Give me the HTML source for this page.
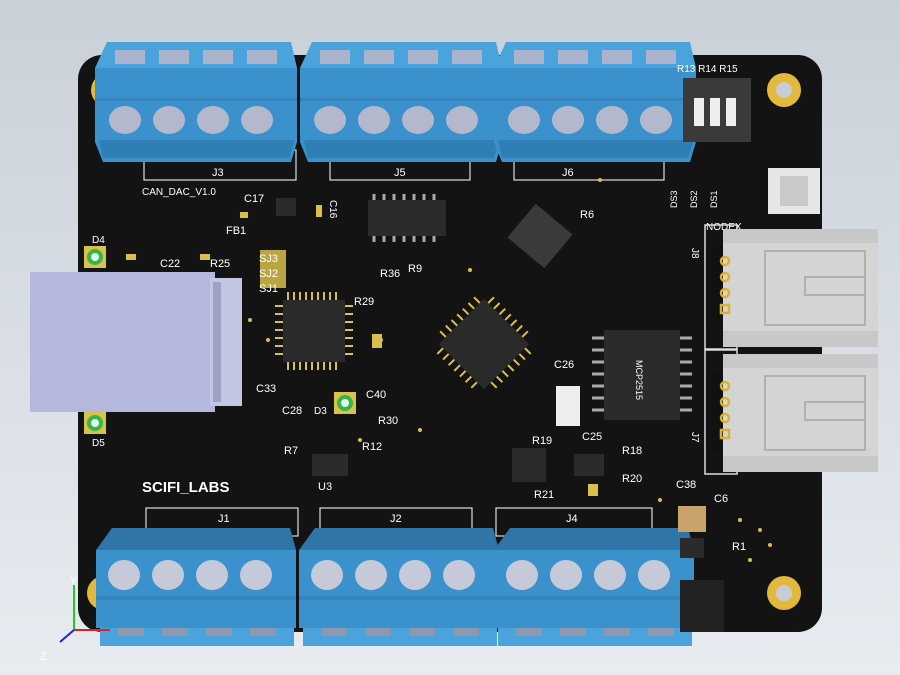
<!DOCTYPE html>
<html><head><style>
body{margin:0;width:900px;height:675px;overflow:hidden;background:#d8dee6}
svg{display:block}
text{font-family:"Liberation Sans",sans-serif;fill:#fff}
</style></head><body>
<svg width="900" height="675" viewBox="0 0 900 675">
<defs>
<linearGradient id="bg" x1="0" y1="0" x2="0" y2="1"><stop offset="0" stop-color="#c9d0d8"/><stop offset="1" stop-color="#e8ecf1"/></linearGradient>
<g id="tbTop">
 <polygon points="12,0 196,0 202,26 0,26" fill="#4ba3dc"/>
 <rect x="20" y="8" width="30" height="14" fill="#a9b3cc"/><rect x="64" y="8" width="30" height="14" fill="#a9b3cc"/>
 <rect x="108" y="8" width="30" height="14" fill="#a9b3cc"/><rect x="152" y="8" width="30" height="14" fill="#a9b3cc"/>
 <polygon points="0,26 202,26 202,100 196,120 8,120 0,100" fill="#3a91cc"/>
 <rect x="0" y="56" width="202" height="3" fill="#3483bd"/>
 <ellipse cx="30" cy="78" rx="16" ry="14" fill="#b4b8cc"/><ellipse cx="74" cy="78" rx="16" ry="14" fill="#b4b8cc"/>
 <ellipse cx="118" cy="78" rx="16" ry="14" fill="#b4b8cc"/><ellipse cx="162" cy="78" rx="16" ry="14" fill="#b4b8cc"/>
 <polygon points="4,98 200,98 194,116 8,116" fill="#2f7eb4"/>
</g>
<g id="tbBot">
 <polygon points="16,0 194,0 200,22 0,22" fill="#2f75a8"/>
 <rect x="0" y="22" width="200" height="78" fill="#3a91cc"/>
 <ellipse cx="28" cy="47" rx="16" ry="15" fill="#c6cad8"/><ellipse cx="72" cy="47" rx="16" ry="15" fill="#c6cad8"/>
 <ellipse cx="116" cy="47" rx="16" ry="15" fill="#c6cad8"/><ellipse cx="160" cy="47" rx="16" ry="15" fill="#c6cad8"/>
 <rect x="0" y="68" width="200" height="4" fill="#3584bd"/>
 <rect x="4" y="100" width="194" height="18" fill="#4ba3dc"/>
 <rect x="22" y="100" width="26" height="8" fill="#8d99b0"/><rect x="66" y="100" width="26" height="8" fill="#8d99b0"/>
 <rect x="110" y="100" width="26" height="8" fill="#8d99b0"/><rect x="154" y="100" width="26" height="8" fill="#8d99b0"/>
</g>
<g id="conn">
 <rect x="0" y="0" width="32" height="124" fill="none" stroke="#ddd" stroke-width="1.5"/>
 <rect x="6" y="22" width="30" height="80" fill="#111"/>
 <rect x="18" y="4" width="155" height="118" rx="4" fill="#d4d4d4"/>
 <rect x="18" y="4" width="155" height="14" fill="#c8c8c8"/>
 <rect x="18" y="106" width="155" height="16" fill="#c8c8c8"/>
 <rect x="60" y="26" width="100" height="74" fill="none" stroke="#b0b0b0" stroke-width="2"/>
 <rect x="100" y="52" width="60" height="18" fill="none" stroke="#b0b0b0" stroke-width="2"/>
 <circle cx="20" cy="36" r="4" fill="none" stroke="#d9b330" stroke-width="2.5"/><circle cx="20" cy="52" r="4" fill="none" stroke="#d9b330" stroke-width="2.5"/>
 <circle cx="20" cy="68" r="4" fill="none" stroke="#d9b330" stroke-width="2.5"/><rect x="16" y="80" width="8" height="8" fill="none" stroke="#d9b330" stroke-width="2.5"/>
</g>
</defs>
<rect width="900" height="675" fill="url(#bg)"/>
<rect x="78" y="55" width="744" height="577" rx="24" fill="#131313"/>
<circle cx="108" cy="90" r="17" fill="#e2b93a"/><circle cx="108" cy="90" r="8" fill="#b9a57a"/>
<circle cx="784" cy="90" r="17" fill="#e2b93a"/><circle cx="784" cy="90" r="8" fill="#c8cdd5"/>
<circle cx="784" cy="593" r="17" fill="#e2b93a"/><circle cx="784" cy="593" r="8" fill="#c8cdd5"/>
<circle cx="104" cy="593" r="17" fill="#e2b93a"/>
<g fill="none" stroke="#ddd" stroke-width="1.2">
<rect x="144" y="150" width="152" height="30"/><rect x="330" y="150" width="140" height="30"/><rect x="514" y="150" width="150" height="30"/>
<rect x="146" y="508" width="152" height="28"/><rect x="320" y="508" width="152" height="28"/><rect x="496" y="508" width="156" height="28"/>
</g>
<text x="212" y="176" font-size="11">J3</text><text x="394" y="176" font-size="11">J5</text><text x="562" y="176" font-size="11">J6</text>
<text x="218" y="522" font-size="11">J1</text><text x="390" y="522" font-size="11">J2</text><text x="566" y="522" font-size="11">J4</text>
<text x="142" y="195" font-size="10">CAN_DAC_V1.0</text>
<text x="142" y="492" font-size="15" font-weight="bold">SCIFI_LABS</text>
<use href="#tbTop" x="95" y="42"/><use href="#tbTop" x="300" y="42"/><use href="#tbTop" x="494" y="42"/>
<use href="#tbBot" x="96" y="528"/><use href="#tbBot" x="299" y="528"/><use href="#tbBot" x="494" y="528"/>
<rect x="683" y="78" width="68" height="64" fill="#3a3a3a"/>
<rect x="694" y="98" width="10" height="28" fill="#eee"/><rect x="710" y="98" width="10" height="28" fill="#eee"/><rect x="726" y="98" width="10" height="28" fill="#eee"/>
<text x="677" y="72" font-size="10">R13 R14 R15</text>
<text x="677" y="208" font-size="9" transform="rotate(-90 677 208)">DS3</text>
<text x="697" y="208" font-size="9" transform="rotate(-90 697 208)">DS2</text>
<text x="717" y="208" font-size="9" transform="rotate(-90 717 208)">DS1</text>
<rect x="768" y="168" width="52" height="46" fill="#e6e6e6"/><rect x="780" y="176" width="28" height="30" fill="#c9c9c9"/>
<text x="706" y="230" font-size="10">NODEX</text>
<use href="#conn" x="705" y="225"/><use href="#conn" x="705" y="350"/>
<text x="692" y="248" font-size="10" transform="rotate(90 692 248)">J8</text>
<text x="692" y="432" font-size="10" transform="rotate(90 692 432)">J7</text>
<rect x="30" y="272" width="185" height="140" fill="#b4b8dc"/>
<rect x="210" y="278" width="32" height="128" fill="#c2c6e2"/>
<rect x="213" y="282" width="8" height="120" fill="#9ea2c4"/>
<rect x="84" y="246" width="22" height="22" fill="#d8c34a"/><circle cx="95" cy="257" r="8" fill="#39b34a"/><circle cx="95" cy="257" r="4" fill="#dfe"/>
<rect x="84" y="412" width="22" height="22" fill="#d8c34a"/><circle cx="95" cy="423" r="8" fill="#39b34a"/><circle cx="95" cy="423" r="4" fill="#dfe"/>
<rect x="334" y="392" width="22" height="22" fill="#d8c34a"/><circle cx="345" cy="403" r="8" fill="#39b34a"/><circle cx="345" cy="403" r="4" fill="#dfe"/>
<text x="92" y="243" font-size="10">D4</text><text x="92" y="446" font-size="10">D5</text><text x="314" y="414" font-size="10">D3</text>
<rect x="283" y="300" width="62" height="62" fill="#2a2a2a"/>
<g stroke="#d9c04a" stroke-width="2"><path d="M288 300v-8M294 300v-8M300 300v-8M306 300v-8M312 300v-8M318 300v-8M324 300v-8M330 300v-8M336 300v-8M288 362v8M294 362v8M300 362v8M306 362v8M312 362v8M318 362v8M324 362v8M330 362v8M336 362v8M283 306h-8M283 314h-8M283 322h-8M283 330h-8M283 338h-8M283 346h-8M283 354h-8M345 306h8M345 314h8M345 322h8M345 330h8M345 338h8M345 346h8M345 354h8"/></g>
<g transform="rotate(45 484 344)"><rect x="452" y="312" width="64" height="64" fill="#2a2a2a"/>
<g stroke="#d9c04a" stroke-width="2"><path d="M458 312v-8M466 312v-8M474 312v-8M482 312v-8M490 312v-8M498 312v-8M506 312v-8M458 376v8M466 376v8M474 376v8M482 376v8M490 376v8M498 376v8M506 376v8M452 318h-8M452 326h-8M452 334h-8M452 342h-8M452 350h-8M452 358h-8M452 366h-8M516 318h8M516 326h8M516 334h8M516 342h8M516 350h8M516 358h8M516 366h8"/></g></g>
<rect x="368" y="200" width="78" height="36" fill="#2b2b2b"/>
<g stroke="#aaa" stroke-width="3"><path d="M374 200v-6M384 200v-6M394 200v-6M404 200v-6M414 200v-6M424 200v-6M434 200v-6M374 236v6M384 236v6M394 236v6M404 236v6M414 236v6M424 236v6M434 236v6"/></g>
<rect x="604" y="330" width="76" height="90" fill="#2b2b2b"/>
<g stroke="#aaa" stroke-width="3"><path d="M592 338h12M592 350h12M592 362h12M592 374h12M592 386h12M592 398h12M592 410h12M680 338h12M680 350h12M680 362h12M680 374h12M680 386h12M680 398h12M680 410h12"/></g>
<text x="636" y="360" font-size="9" fill="#aaa" transform="rotate(90 636 360)">MCP2515</text>
<g transform="rotate(40 540 236)"><rect x="516" y="214" width="48" height="44" fill="#3a3a3a"/></g>
<rect x="556" y="386" width="24" height="40" fill="#eee"/>
<rect x="312" y="454" width="36" height="22" fill="#2b2b2b"/>
<rect x="512" y="448" width="34" height="34" fill="#2b2b2b"/>
<rect x="574" y="454" width="30" height="22" fill="#2b2b2b"/>
<rect x="678" y="506" width="28" height="26" fill="#c9a36a"/>
<rect x="680" y="538" width="24" height="20" fill="#2b2b2b"/>
<rect x="680" y="580" width="44" height="52" fill="#222"/>
<rect x="276" y="198" width="20" height="18" fill="#2b2b2b"/>
<rect x="260" y="250" width="26" height="38" fill="#d9c04a" opacity=".85"/>
<g font-size="11">
<text x="244" y="202">C17</text><text x="226" y="234">FB1</text><text x="160" y="267">C22</text><text x="210" y="267">R25</text>
<text x="259" y="262">SJ3</text><text x="259" y="277">SJ2</text><text x="259" y="292">SJ1</text>
<text x="354" y="305">R29</text><text x="256" y="392">C33</text><text x="282" y="414">C28</text><text x="366" y="398">C40</text>
<text x="378" y="424">R30</text><text x="284" y="454">R7</text><text x="362" y="450">R12</text><text x="318" y="490">U3</text>
<text x="380" y="277">R36</text><text x="408" y="272">R9</text><text x="580" y="218">R6</text>
<text x="554" y="368">C26</text><text x="532" y="444">R19</text><text x="582" y="440">C25</text><text x="622" y="454">R18</text>
<text x="622" y="482">R20</text><text x="534" y="498">R21</text><text x="676" y="488">C38</text><text x="714" y="502">C6</text><text x="732" y="550">R1</text>
</g>
<text x="330" y="200" font-size="10" transform="rotate(90 330 200)">C16</text>
<g fill="#d9c04a">
<circle cx="420" cy="430" r="2"/><circle cx="360" cy="440" r="2"/><circle cx="250" cy="320" r="2"/><circle cx="268" cy="340" r="2"/>
<circle cx="740" cy="520" r="2"/><circle cx="760" cy="530" r="2"/><circle cx="750" cy="560" r="2"/><circle cx="770" cy="545" r="2"/>
<circle cx="600" cy="180" r="2"/><circle cx="470" cy="270" r="2"/><circle cx="380" cy="340" r="3"/><circle cx="660" cy="500" r="2"/>
<rect x="126" y="254" width="10" height="6"/><rect x="200" y="254" width="10" height="6"/><rect x="240" y="212" width="8" height="6"/>
<rect x="316" y="205" width="6" height="12"/><rect x="372" y="334" width="10" height="14"/><rect x="588" y="484" width="10" height="12"/>
</g>
<g stroke-width="2"><path d="M74 630V585" stroke="#2c2"/><path d="M74 630H110" stroke="#d22"/><path d="M74 630L60 642" stroke="#22d"/></g>
<text x="70" y="584" font-size="10" fill="#2c2">Y</text><text x="40" y="660" font-size="11" fill="#22d">Z</text>
</svg>
</body></html>
